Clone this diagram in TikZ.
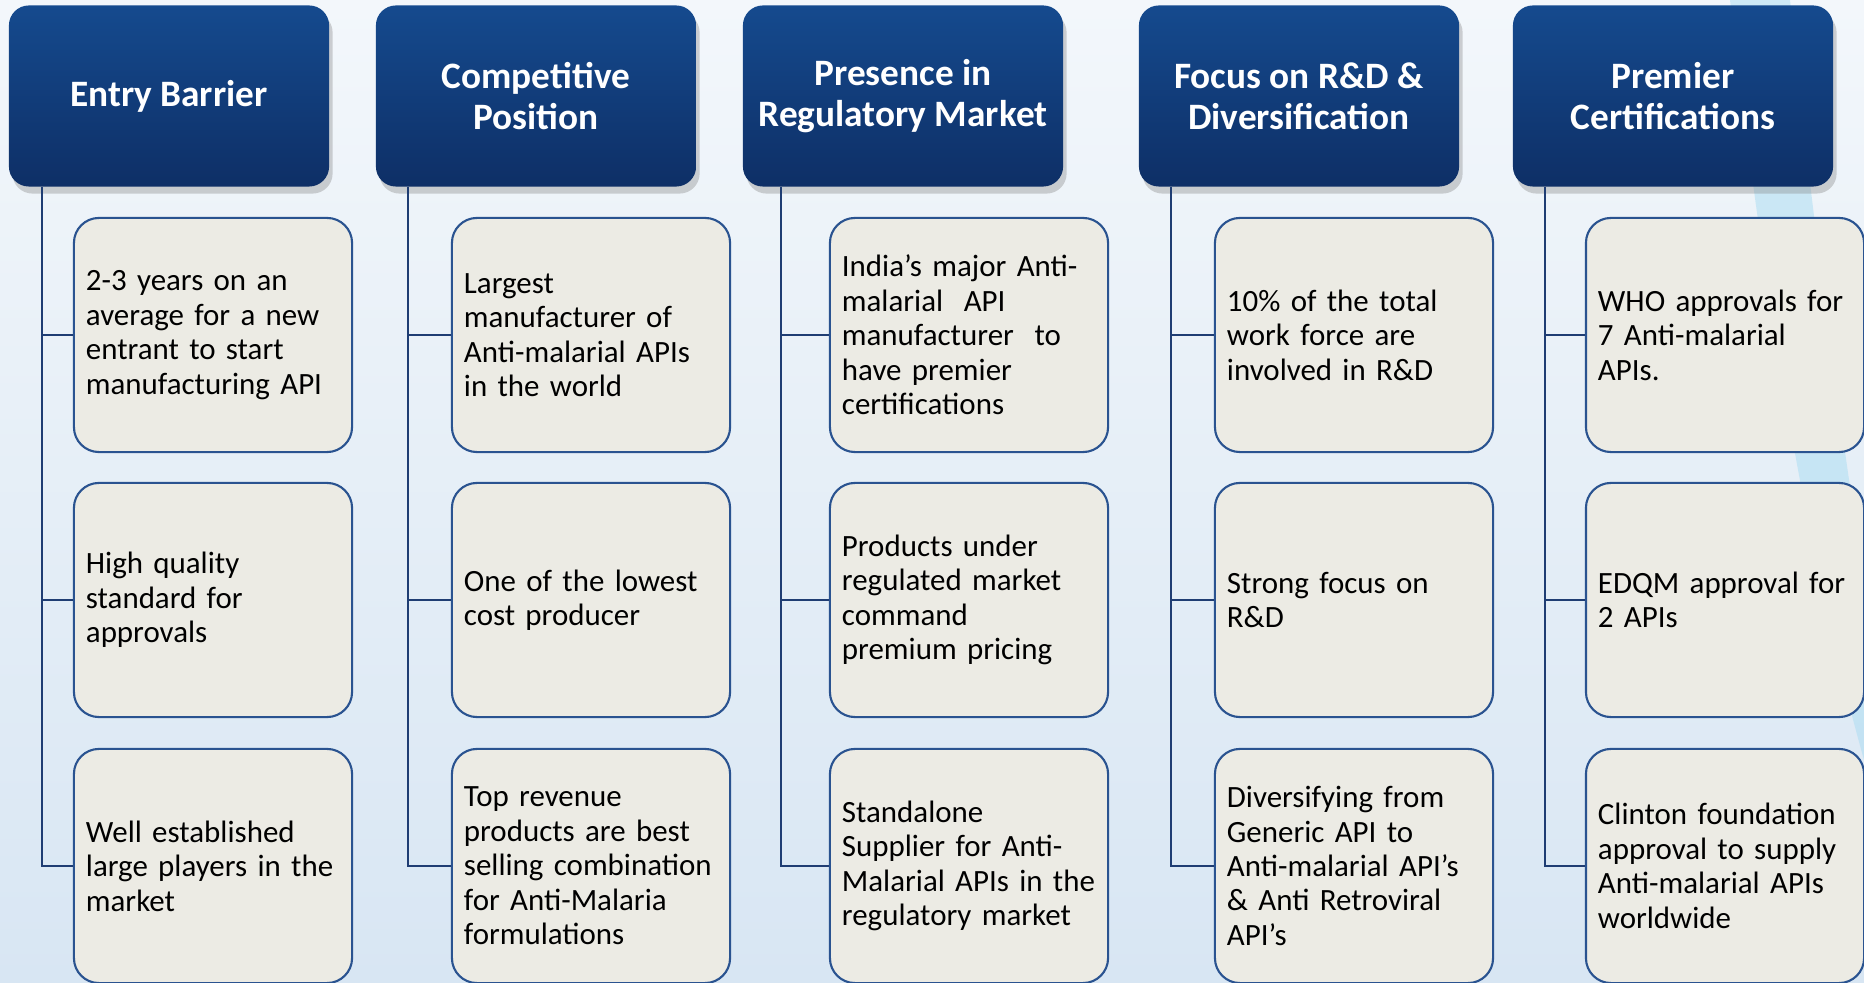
\documentclass[tikz,border=0pt]{standalone}
\usepackage{fontspec}
\setmainfont{Carlito}
\usetikzlibrary{shadows}

\definecolor{headtop}{HTML}{154A8E}
\definecolor{headbot}{HTML}{0E2F66}
\definecolor{boxfill}{HTML}{ECEBE4}
\definecolor{boxdraw}{HTML}{2A5390}
\definecolor{linkcol}{HTML}{1F3D73}
\definecolor{bgtop}{HTML}{F3F7FB}
\definecolor{bgbot}{HTML}{D8E6F3}
\definecolor{swoosh}{HTML}{A8DCF2}

\begin{document}
\begin{tikzpicture}[
		x=0.01cm, y=-0.01cm,
		header/.style={rounded corners=0.2cm, top color=headtop, bottom color=headbot,
			draw=none, minimum width=3.2cm, minimum height=1.81cm, align=center,
			text=white, font=\fontsize{10.6}{11.6}\selectfont\bfseries,
			drop shadow={shadow xshift=1pt, shadow yshift=-2pt, opacity=0.35}},
		item/.style={rounded corners=0.25cm, fill=boxfill, draw=boxdraw, line width=0.6pt,
			text width=2.54cm, inner xsep=0.12cm, minimum height=2.34cm, align=left,
			text=black, font=\fontsize{8.8}{9.8}\selectfont},
		link/.style={draw=linkcol, line width=0.6pt}
		]
		
		% Background
		\useasboundingbox (0,0) rectangle (1864,983);
		\clip (0,0) rectangle (1864,983);
		\shade[top color=bgtop, bottom color=bgbot] (0,0) rectangle (1864,983);
		\fill[swoosh, opacity=0.5] (1730,0) .. controls (1765,300) and (1805,550) .. (1864,760)
			-- (1864,580) .. controls (1830,360) and (1805,150) .. (1790,0) -- cycle;
		
		% Headers
		\node[header] (h1) at (169,96) {Entry Barrier};
		\node[header] (h2) at (536,96) {Competitive\\Position};
		\node[header] (h3) at (903,96) {Presence in\\Regulatory Market};
		\node[header] (h4) at (1299,96) {Focus on R\&D \&\\Diversification};
		\node[header] (h5) at (1673,96) {Premier\\Certifications};
		
		% Entry Barrier
		\node[item] (b11) at (213,335) {2-3 years on an\\average for a new\\entrant to start\\manufacturing API};
		\node[item] (b12) at (213,600) {High quality\\standard for\\approvals};
		\node[item] (b13) at (213,866) {Well established\\large players in the\\market};
		
		% Competitive Position
		\node[item] (b21) at (591,335) {Largest\\manufacturer of\\Anti-malarial APIs\\in the world};
		\node[item] (b22) at (591,600) {One of the lowest\\cost producer};
		\node[item] (b23) at (591,866) {Top revenue\\products are best\\selling combination\\for Anti-Malaria\\formulations};
		
		% Presence in Regulatory Market
		\node[item] (b31) at (969,335) {India’s major Anti-\\malarial~~API\\manufacturer~~to\\have premier\\certifications};
		\node[item] (b32) at (969,600) {Products under\\regulated market\\command\\premium pricing};
		\node[item] (b33) at (969,866) {Standalone\\Supplier for Anti-\\Malarial APIs in the\\regulatory market};
		
		% Focus on R&D & Diversification
		\node[item] (b41) at (1354,335) {10\% of the total\\work force are\\involved in R\&D};
		\node[item] (b42) at (1354,600) {Strong focus on\\R\&D};
		\node[item] (b43) at (1354,866) {Diversifying from\\Generic API to\\Anti-malarial API’s\\\& Anti Retroviral\\API’s};
		
		% Premier Certifications
		\node[item] (b51) at (1725,335) {WHO approvals for\\7 Anti-malarial\\APIs.};
		\node[item] (b52) at (1725,600) {EDQM approval for\\2 APIs};
		\node[item] (b53) at (1725,866) {Clinton foundation\\approval to supply\\Anti-malarial APIs\\worldwide};
		
		% Trunks below headers
		\coordinate (t1) at (42,187);
		\coordinate (t2) at (408,187);
		\coordinate (t3) at (781,187);
		\coordinate (t4) at (1171,187);
		\coordinate (t5) at (1545,187);
		
		% Connectors
		\draw[link] (t1) |- (b13.west);
		\draw[link] (b11.west) -- (b11.west -| t1);
		\draw[link] (b12.west) -- (b12.west -| t1);
		
		\draw[link] (t2) |- (b23.west);
		\draw[link] (b21.west) -- (b21.west -| t2);
		\draw[link] (b22.west) -- (b22.west -| t2);
		
		\draw[link] (t3) |- (b33.west);
		\draw[link] (b31.west) -- (b31.west -| t3);
		\draw[link] (b32.west) -- (b32.west -| t3);
		
		\draw[link] (t4) |- (b43.west);
		\draw[link] (b41.west) -- (b41.west -| t4);
		\draw[link] (b42.west) -- (b42.west -| t4);
		
		\draw[link] (t5) |- (b53.west);
		\draw[link] (b51.west) -- (b51.west -| t5);
		\draw[link] (b52.west) -- (b52.west -| t5);
		
	\end{tikzpicture}
\end{document}
